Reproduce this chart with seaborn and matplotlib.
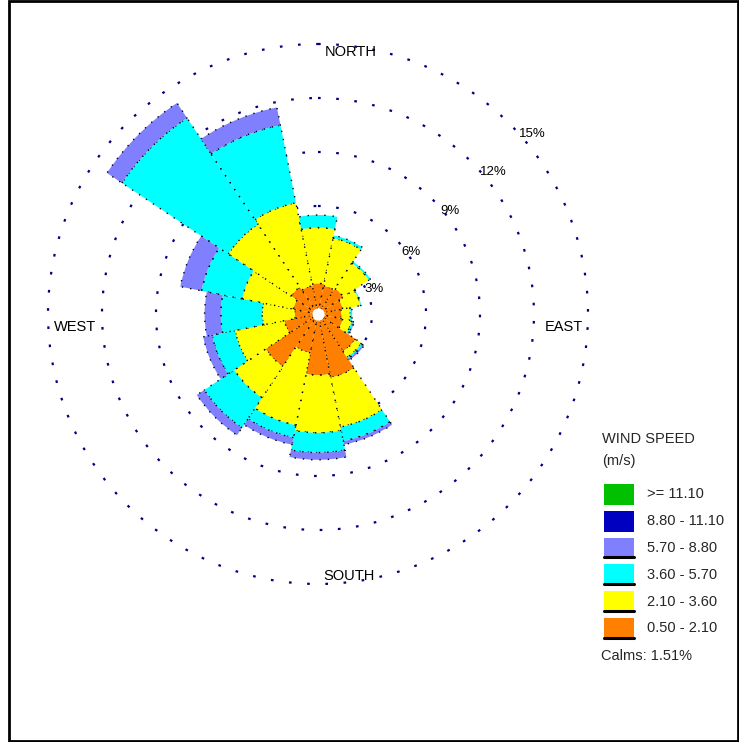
import numpy as np
import matplotlib
matplotlib.use("Agg")
import matplotlib.pyplot as plt
import seaborn as sns
from matplotlib.patches import Rectangle
from matplotlib.lines import Line2D

# ---------------- data ----------------
directions = ["N", "NNE", "NE", "ENE", "E", "ESE", "SE", "SSE",
              "S", "SSW", "SW", "WSW", "W", "WNW", "NW", "NNW"]
speed_bins = ["0.50 - 2.10", "2.10 - 3.60", "3.60 - 5.70",
              "5.70 - 8.80", "8.80 - 11.10", ">= 11.10"]
# frequency (%) per direction for each wind speed class
freq_050_210 = [1.7, 1.6, 1.7, 1.4, 1.3, 1.4, 2.5, 3.6, 3.4, 2.2, 3.5, 1.9, 1.3, 1.4, 1.8, 1.6]
freq_210_360 = [3.1, 2.7, 1.7, 1.0, 0.5, 0.5, 0.4, 2.8, 3.2, 4.1, 2.1, 2.8, 1.8, 2.9, 4.2, 4.7]
freq_360_570 = [0.7, 0.15, 0.1, 0.05, 0.1, 0.1, 0.1, 0.8, 1.1, 0.7, 2.0, 1.3, 2.3, 2.3, 7.1, 4.4]
freq_570_880 = [0.0, 0.0, 0.0, 0.0, 0.0, 0.05, 0.1, 0.2, 0.4, 0.4, 0.5, 0.5, 0.9, 1.2, 1.0, 1.0]
freq_880_1110 = [0.0] * 16
freq_ge_1110 = [0.0] * 16
ring_values = [3, 6, 9, 12, 15]
ring_labels = ["3%", "6%", "9%", "12%", "15%"]
compass_labels = ["NORTH", "EAST", "SOUTH", "WEST"]
legend_title = ["WIND SPEED", "(m/s)"]
calms_pct = 1.51

# ---------------- style ----------------
sns.set_theme(style="white")
plt.rcParams["font.family"] = ["Liberation Sans", "DejaVu Sans"]
bin_colors = sns.color_palette(["#ff8000", "#ffff00", "#00ffff",
                                "#8080ff", "#0000c0", "#00c000"])
ring_color = "#000080"

W, H = 739, 742
fig = plt.figure(figsize=(W / 100, H / 100), dpi=100)
fig.patch.set_facecolor("white")

def fx(x):
    return x / W

def fy(y):
    return 1 - y / H

# polar axes: center (318, 314) px, 18 px per percent
cx, cy, ppu, rmax = 318, 314, 18.0, 15.3
rad_px = rmax * ppu
ax = fig.add_axes([fx(cx - rad_px), fy(cy + rad_px), 2 * rad_px / W, 2 * rad_px / H],
                  projection="polar")
ax.set_theta_zero_location("N")
ax.set_theta_direction(-1)
ax.set_facecolor("none")
ax.set_ylim(0, rmax)
ax.spines["polar"].set_visible(False)
ax.set_xticks([])
ax.set_yticks(ring_values)
ax.set_yticklabels([])
ax.yaxis.grid(True, color=ring_color, linestyle=(0, (1.2, 7)), linewidth=1.6)
ax.xaxis.grid(False)

theta = np.deg2rad(np.arange(16) * 22.5)
width = np.deg2rad(22.5)
series = [freq_050_210, freq_210_360, freq_360_570, freq_570_880, freq_880_1110, freq_ge_1110]
bottom = np.zeros(16)
for vals, col in zip(series, bin_colors):
    vals = np.asarray(vals, dtype=float)
    mask = vals > 0
    if mask.any():
        ax.bar(theta[mask], vals[mask], width=width, bottom=bottom[mask],
               color=col, edgecolor="black", linewidth=1.0,
               linestyle=(0, (1, 5)), zorder=2)
    bottom += vals

# small calm hole in the center
tt = np.linspace(0, 2 * np.pi, 120)
ax.fill_between(tt, 0, 0.3, color="white", zorder=4)

# ring labels
label_ang = [66, 56, 52, 51, 50]
label_r = [3.4, 6.2, 9.3, 12.55, 15.55]
for a, r, lab in zip(label_ang, label_r, ring_labels):
    ax.text(np.deg2rad(a), r, lab, ha="center", va="center", fontsize=9.5,
            color="black", zorder=6)

# compass labels (left-aligned)
comp_pos = {"NORTH": (1.5, 14.56), "EAST": (93.3, 12.63),
            "SOUTH": (178.9, 14.56), "WEST": (267.2, 14.7)}
for lab in compass_labels:
    a, r = comp_pos[lab]
    ax.text(np.deg2rad(a), r, lab, ha="left", va="center", fontsize=10.5,
            color="black", zorder=6)

# legend
fig.text(fx(602), fy(439), legend_title[0], ha="left", va="center", fontsize=10.5)
fig.text(fx(602), fy(461), legend_title[1], ha="left", va="center", fontsize=10.5)
order = list(range(len(speed_bins)))[::-1]
for i, k in enumerate(order):
    y0 = 484 + 26.8 * i
    fig.add_artist(Rectangle((fx(604), fy(y0 + 21)), 30 / W, 21 / H,
                             transform=fig.transFigure, facecolor=bin_colors[k],
                             edgecolor="none"))
    if sum(series[k]) > 0:
        fig.add_artist(Line2D([fx(604), fx(634)], [fy(y0 + 19.5), fy(y0 + 19.5)],
                              transform=fig.transFigure, color="black", linewidth=2.2))
    fig.text(fx(647), fy(y0 + 10.5), speed_bins[k], ha="left", va="center", fontsize=10.5)
fig.text(fx(601), fy(656), f"Calms: {calms_pct:.2f}%", ha="left", va="center", fontsize=10.5)

# outer frame
fig.add_artist(Rectangle((fx(8.5), fy(740.5)), (737.5 - 8.5) / W, (740.5 - 1) / H,
                         transform=fig.transFigure, facecolor="none",
                         edgecolor="black", linewidth=2.0))

fig.savefig("out.png", dpi=100)
